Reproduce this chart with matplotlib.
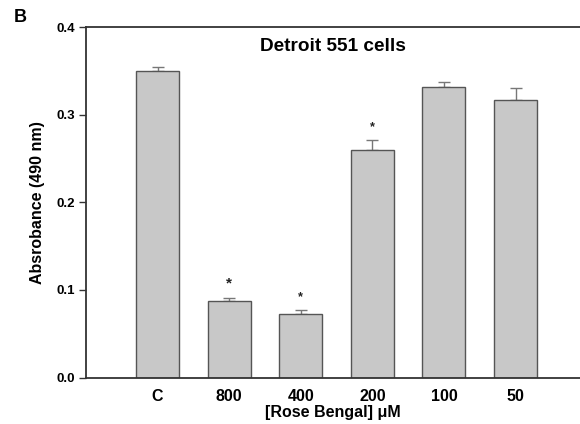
import matplotlib
matplotlib.use("Agg")
import matplotlib.pyplot as plt
import numpy as np

plt.rcParams['font.family'] = ['Liberation Sans', 'DejaVu Sans']

categories = ["C", "800", "400", "200", "100", "50"]
values = [0.350, 0.087, 0.073, 0.260, 0.331, 0.317]
errors = [0.004, 0.004, 0.004, 0.011, 0.006, 0.013]
star_flags = [False, True, True, True, False, False]
star_sizes = [0, 11, 9, 9, 0, 0]
yticks = [0.0, 0.1, 0.2, 0.3, 0.4]

fig = plt.figure(figsize=(5.8, 4.24), dpi=100)
ax = fig.add_axes([86/580, 1-377.5/424, 1-86/580, (377.5-27)/424])

x = np.arange(len(categories))
ax.bar(x, values, width=0.6, color="#c8c8c8", edgecolor="#555555", linewidth=1.0, zorder=2)
ax.errorbar(x, values, yerr=[np.zeros(len(errors)), errors], fmt="none",
            ecolor="#777777", elinewidth=1.0, capsize=4, capthick=1.0, zorder=1)

for xi, v, e, f, s in zip(x, values, errors, star_flags, star_sizes):
    if f:
        ax.text(xi, v + e + 0.008, "*", ha="center", va="bottom", fontsize=s,
                fontweight="bold", color="#222222")

ax.set_xlim(-1.0, 5.9)
ax.set_ylim(0, 0.4)
ax.set_xticks(x)
ax.set_xticklabels(categories, fontsize=11.5, fontweight="bold")
ax.tick_params(axis="x", length=0, pad=8)
ax.set_yticks(yticks)
ax.set_yticklabels([f"{t:.1f}" for t in yticks], fontsize=9.5, fontweight="bold")
ax.tick_params(axis="y", length=5, width=1.0, color="#333333", pad=3, direction="out")

for side in ["left", "top", "bottom"]:
    ax.spines[side].set_color("#333333")
    ax.spines[side].set_linewidth(1.3)
ax.spines["right"].set_visible(False)

ax.set_xlabel("[Rose Bengal] \u03bcM", fontsize=11.5, fontweight="bold", labelpad=1)
ax.set_ylabel("Absrobance (490 nm)", fontsize=11.5, fontweight="bold", labelpad=8)
ax.text(0.5 * (-1.0 + 5.9), 0.378, "Detroit 551 cells", ha="center", va="center",
        fontsize=13.7, fontweight="bold")
fig.text(20/580, 1-18/424, "B", fontsize=13, fontweight="bold", ha="center", va="center")

fig.savefig("out.png", dpi=100)
